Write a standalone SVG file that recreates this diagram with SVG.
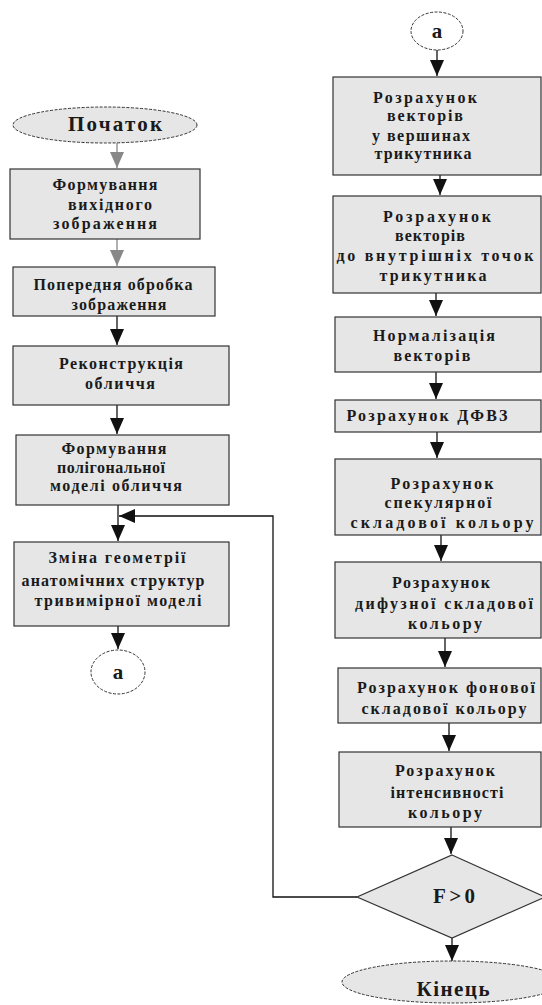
<svg xmlns="http://www.w3.org/2000/svg" width="542" height="1005" viewBox="0 0 542 1005">
<style>
.box{fill:#e6e6e6;stroke:#333;stroke-width:1.2}
.term{fill:#e6e6e6;stroke:#333;stroke-width:1;stroke-dasharray:3 1.5}
.conn{fill:#fff;stroke:#333;stroke-width:1;stroke-dasharray:3 1.5}
.t{font-family:"Liberation Serif","DejaVu Serif",serif;font-weight:bold;font-size:16px;fill:#1a1a1a;text-anchor:middle}
.big{font-family:"Liberation Serif","DejaVu Serif",serif;font-weight:bold;font-size:21px;fill:#1a1a1a;text-anchor:middle}
.ln{fill:none;stroke:#111;stroke-width:1.3}
.lg{fill:none;stroke:#888;stroke-width:1.3}
</style>
<defs>
<marker id="ah" markerUnits="userSpaceOnUse" markerWidth="16" markerHeight="14" viewBox="0 0 16 14" refX="16" refY="7" orient="auto">
<path d="M0,0 L16,7 L0,14 Z" fill="#111"/>
</marker>
<marker id="ahg" markerUnits="userSpaceOnUse" markerWidth="16" markerHeight="14" viewBox="0 0 16 14" refX="16" refY="7" orient="auto">
<path d="M0,0 L16,7 L0,14 Z" fill="#888"/>
</marker>
</defs>
<rect width="542" height="1005" fill="#fff"/>

<g id="connectors">
<path class="lg" d="M117,143 V168" marker-end="url(#ahg)"/>
<path class="lg" d="M117,239 V266" marker-end="url(#ahg)"/>
<path class="ln" d="M117,316 V345" marker-end="url(#ah)"/>
<path class="ln" d="M117,405 V434" marker-end="url(#ah)"/>
<path class="ln" d="M118,505 V541" marker-end="url(#ah)"/>
<path class="ln" d="M118,626 V649" marker-end="url(#ah)"/>
<path class="ln" d="M357,897 H273 V516 H119" marker-end="url(#ah)"/>
<path class="ln" d="M437,50 V76" marker-end="url(#ah)"/>
<path class="ln" d="M440,175 V195" marker-end="url(#ah)"/>
<path class="ln" d="M436,293 V316" marker-end="url(#ah)"/>
<path class="ln" d="M436,372 V399" marker-end="url(#ah)"/>
<path class="ln" d="M437,432 V458" marker-end="url(#ah)"/>
<path class="ln" d="M441,535 V561" marker-end="url(#ah)"/>
<path class="ln" d="M445,638 V667" marker-end="url(#ah)"/>
<path class="ln" d="M449,723 V751" marker-end="url(#ah)"/>
<path class="ln" d="M451,827 V854" marker-end="url(#ah)"/>
<path class="ln" d="M452,938 V961" marker-end="url(#ah)"/>
</g>

<g id="start">
<ellipse class="term" cx="105" cy="125" rx="92" ry="18"/>
<text class="big" x="115" y="131" textLength="94" lengthAdjust="spacing">Початок</text>
</g>

<g id="n1">
<rect class="box" x="10" y="169" width="190" height="70"/>
<text class="t" x="105" y="190" textLength="105" lengthAdjust="spacing">Формування</text>
<text class="t" x="110" y="210" textLength="84" lengthAdjust="spacing">вихідного</text>
<text class="t" x="105" y="229" textLength="104" lengthAdjust="spacing">зображення</text>
</g>

<g id="n2">
<rect class="box" x="13" y="267" width="202" height="49"/>
<text class="t" x="113" y="290" textLength="159" lengthAdjust="spacing">Попередня обробка</text>
<text class="t" x="119" y="310" textLength="95" lengthAdjust="spacing">зображення</text>
</g>

<g id="n3">
<rect class="box" x="13" y="346" width="216" height="59"/>
<text class="t" x="121" y="369" textLength="124" lengthAdjust="spacing">Реконструкція</text>
<text class="t" x="120" y="389" textLength="70" lengthAdjust="spacing">обличчя</text>
</g>

<g id="n4">
<rect class="box" x="16" y="435" width="213" height="70"/>
<text class="t" x="114" y="454" textLength="105" lengthAdjust="spacing">Формування</text>
<text class="t" x="111" y="473" textLength="108" lengthAdjust="spacing">полігональної</text>
<text class="t" x="116" y="491" textLength="132" lengthAdjust="spacing">моделі обличчя</text>
</g>

<g id="n5">
<rect class="box" x="14" y="542" width="215" height="84"/>
<text class="t" x="117" y="563" textLength="137" lengthAdjust="spacing">Зміна геометрії</text>
<text class="t" x="113" y="586" textLength="183" lengthAdjust="spacing">анатомічних структур</text>
<text class="t" x="118" y="606" textLength="167" lengthAdjust="spacing">тривимірної моделі</text>
</g>

<g id="conA1">
<ellipse class="conn" cx="118" cy="672" rx="27" ry="22"/>
<text class="big" x="118" y="679">а</text>
</g>

<g id="conA2">
<ellipse class="conn" cx="437" cy="31" rx="26" ry="19"/>
<text class="big" x="437" y="38">а</text>
</g>

<g id="r1">
<rect class="box" x="333" y="77" width="208" height="98"/>
<text class="t" x="425" y="103" textLength="104" lengthAdjust="spacing">Розрахунок</text>
<text class="t" x="425" y="121" textLength="76" lengthAdjust="spacing">векторів</text>
<text class="t" x="421" y="141" textLength="98" lengthAdjust="spacing">у вершинах</text>
<text class="t" x="423" y="159" textLength="97" lengthAdjust="spacing">трикутника</text>
</g>

<g id="r2">
<rect class="box" x="333" y="196" width="208" height="97"/>
<text class="t" x="437" y="222" textLength="108" lengthAdjust="spacing">Розрахунок</text>
<text class="t" x="430" y="241" textLength="70" lengthAdjust="spacing">векторів</text>
<text class="t" x="435" y="261" textLength="197" lengthAdjust="spacing">до внутрішніх точок</text>
<text class="t" x="433" y="281" textLength="107" lengthAdjust="spacing">трикутника</text>
</g>

<g id="r3">
<rect class="box" x="335" y="317" width="206" height="55"/>
<text class="t" x="434" y="341" textLength="122" lengthAdjust="spacing">Нормалізація</text>
<text class="t" x="432" y="361" textLength="77" lengthAdjust="spacing">векторів</text>
</g>

<g id="r4">
<rect class="box" x="335" y="400" width="206" height="32"/>
<text class="t" x="427" y="421" textLength="161" lengthAdjust="spacing">Розрахунок ДФВЗ</text>
</g>

<g id="r5">
<rect class="box" x="335" y="459" width="206" height="76"/>
<text class="t" x="442" y="489" textLength="103" lengthAdjust="spacing">Розрахунок</text>
<text class="t" x="438" y="508" textLength="107" lengthAdjust="spacing">спекулярної</text>
<text class="t" x="442" y="528" textLength="183" lengthAdjust="spacing">складової кольору</text>
</g>

<g id="r6">
<rect class="box" x="335" y="562" width="206" height="76"/>
<text class="t" x="441" y="588" textLength="98" lengthAdjust="spacing">Розрахунок</text>
<text class="t" x="444" y="609" textLength="178" lengthAdjust="spacing">дифузної складової</text>
<text class="t" x="445" y="629" textLength="74" lengthAdjust="spacing">кольору</text>
</g>

<g id="r7">
<rect class="box" x="338" y="668" width="203" height="55"/>
<text class="t" x="446" y="693" textLength="178" lengthAdjust="spacing">Розрахунок фонової</text>
<text class="t" x="444" y="714" textLength="165" lengthAdjust="spacing">складової кольору</text>
</g>

<g id="r8">
<rect class="box" x="339" y="752" width="202" height="75"/>
<text class="t" x="445" y="776" textLength="100" lengthAdjust="spacing">Розрахунок</text>
<text class="t" x="447" y="798" textLength="113" lengthAdjust="spacing">інтенсивності</text>
<text class="t" x="445" y="818" textLength="74" lengthAdjust="spacing">кольору</text>
</g>

<g id="decision">
<polygon class="box" points="452,855 545,897 452,938 357,897"/>
<text class="big" x="454" y="903" textLength="42" lengthAdjust="spacing">F&gt;0</text>
</g>

<g id="end">
<ellipse class="term" cx="452" cy="982" rx="110" ry="21"/>
<text class="big" x="453" y="996" textLength="73" lengthAdjust="spacing">Кінець</text>
</g>
</svg>
